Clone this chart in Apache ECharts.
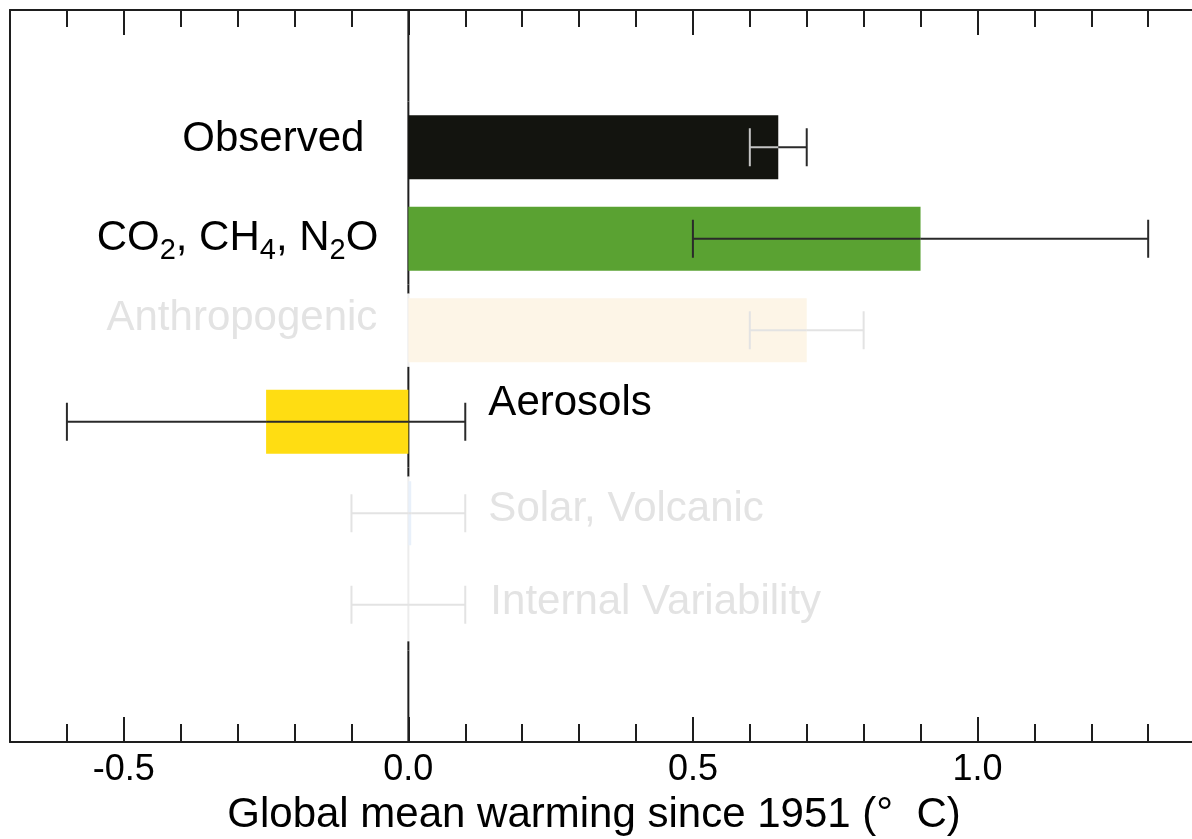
<!DOCTYPE html>
<html>
<head>
<meta charset="utf-8">
<script src="https://cdn.jsdelivr.net/npm/echarts@6/dist/echarts.min.js"></script>
<style>
  html, body { margin: 0; padding: 0; background: #ffffff; }
  #chart { width: 1192px; height: 839px; }
</style>
</head>
<body>
<div id="chart"></div>
<script>
// Rows of the chart, top to bottom (first and last rows are empty spacers)
const rows = ['', 'Observed', 'CO2, CH4, N2O', 'Anthropogenic', 'Aerosols', 'Solar, Volcanic', 'Internal Variability', ' '];
// Best estimate of warming contribution (°C)
const warming = [null, 0.65, 0.90, 0.70, -0.25, 0.005, null, null];
// Likely range (°C)
const rangeLow = [null, 0.60, 0.50, 0.60, -0.60, -0.10, -0.10, null];
const rangeHigh = [null, 0.70, 1.30, 0.80, 0.10, 0.10, 0.10, null];
// Axis ticks
const majorTicks = [-0.5, 0.0, 0.5, 1.0];
const minorTicks = [-0.6, -0.5, -0.4, -0.3, -0.2, -0.1, 0.0, 0.1, 0.2, 0.3, 0.4, 0.5, 0.6, 0.7, 0.8, 0.9, 1.0, 1.1, 1.2, 1.3];
const axisTitle = 'Global mean warming since 1951 (°  C)';

const FONT = '"Liberation Sans", Arial, Helvetica, sans-serif';
const INK = '#1e1e1e';
const FADED = '#e3e3e3';
const X_MIN = -0.7, X_MAX = 1.377;

// Appearance of each row
const ROW_STYLE = {
  'Observed':             { bar: '#13140f', whisker: '#2a2a2a', whiskerInside: '#c4c4c4', text: 'Observed', align: 'right', dx: -44, dy: -8, color: '#000000' },
  'CO2, CH4, N2O':        { bar: '#5aa232', whisker: '#2a2a2a', text: 'CO{s|2}, CH{s|4}, N{s|2}O', align: 'right', dx: -30, dy: 0, color: '#000000' },
  'Anthropogenic':        { bar: '#fdf5e7', whisker: FADED, faded: true, text: 'Anthropogenic', align: 'right', dx: -31, dy: -12, color: FADED },
  'Aerosols':             { bar: '#ffdd12', whisker: '#2a2a2a', text: 'Aerosols', align: 'left', dx: 80, dy: -18, color: '#000000' },
  'Solar, Volcanic':      { bar: '#e8f0fa', whisker: FADED, faded: true, text: 'Solar, Volcanic', align: 'left', dx: 80, dy: -4, color: FADED },
  'Internal Variability': { bar: '#ffffff', whisker: FADED, faded: true, text: 'Internal Variability', align: 'left', dx: 82, dy: -2, color: FADED }
};

const chart = echarts.init(document.getElementById('chart'), null, { renderer: 'canvas' });

function xAxisDef(position, ticks, len, withLine) {
  return {
    type: 'value', position: position, min: X_MIN, max: X_MAX,
    axisLine: { show: !!withLine, onZero: false, lineStyle: { color: INK, width: 2 } },
    axisTick: { show: true, inside: true, length: len, customValues: ticks, lineStyle: { color: INK, width: 2 } },
    axisLabel: withLine && position === 'bottom'
      ? { show: true, customValues: majorTicks, formatter: v => Number(v).toFixed(1), fontSize: 36, fontFamily: FONT, color: '#000000', margin: 10 }
      : { show: false },
    splitLine: { show: false }
  };
}

const idx = rows.map((_, i) => i);

const option = {
  backgroundColor: '#ffffff',
  animation: false,
  grid: { left: 10, right: 0, top: 10, bottom: 97, containLabel: false },
  xAxis: [
    xAxisDef('bottom', minorTicks, 18, true),
    xAxisDef('bottom', majorTicks, 25, false),
    xAxisDef('top', minorTicks, 17, true),
    xAxisDef('top', majorTicks, 25, false)
  ],
  yAxis: {
    type: 'category', data: rows, inverse: true,
    axisLine: { show: true, onZero: false, lineStyle: { color: INK, width: 2 } },
    axisTick: { show: false }, axisLabel: { show: false }, splitLine: { show: false }
  },
  graphic: [{
    type: 'text', x: 594, y: 815,
    style: { text: axisTitle, font: '42px ' + FONT, fill: '#000000', align: 'center', verticalAlign: 'middle' }
  }],
  series: [
    // Zero line, faded across the de-emphasised rows
    {
      type: 'custom', silent: true, z: 1,
      data: idx.map(i => [0, i]),
      encode: { x: 0, y: 1 },
      renderItem: function (params, api) {
        const i = api.value(1);
        const p = api.coord([0, i]);
        const bw = api.size([0, 1])[1];
        const st = ROW_STYLE[rows[i]] || {};
        const prevFaded = !!(ROW_STYLE[rows[i - 1]] || {}).faded;
        const nextFaded = !!(ROW_STYLE[rows[i + 1]] || {}).faded;
        const top = p[1] - bw / 2, bot = p[1] + bw / 2;
        const seg = (y1, y2, c) => ({ type: 'line', shape: { x1: p[0], y1: y1, x2: p[0], y2: y2 }, style: { stroke: c, lineWidth: 2 } });
        const children = [];
        if (!st.faded) {
          children.push(seg(top, bot, INK));
        } else {
          const fTop = prevFaded ? top : p[1] - 0.4 * bw;
          const fBot = nextFaded ? bot : p[1] + 0.4 * bw;
          if (fTop > top) children.push(seg(top, fTop, INK));
          children.push(seg(fTop, fBot, '#ececec'));
          if (fBot < bot) children.push(seg(fBot, bot, INK));
        }
        return { type: 'group', children: children };
      }
    },
    // Bars
    {
      type: 'bar', silent: true, z: 2, barWidth: '70%',
      data: warming.map((v, i) => ({ value: v, itemStyle: { color: (ROW_STYLE[rows[i]] || {}).bar || '#000' } }))
    },
    // Likely ranges
    {
      type: 'custom', silent: true, z: 3,
      data: idx.filter(i => rangeLow[i] !== null).map(i => [rangeLow[i], rangeHigh[i], i, warming[i] === null ? 0 : warming[i]]),
      encode: { x: [0, 1], y: 2 },
      renderItem: function (params, api) {
        const lo = api.value(0), hi = api.value(1), i = api.value(2), v = api.value(3);
        const st = ROW_STYLE[rows[i]] || {};
        const pLo = api.coord([lo, i]), pHi = api.coord([hi, i]);
        const pV = api.coord([v, i]), p0 = api.coord([0, i]);
        const y = pLo[1];
        const half = 19;
        const inner = st.whiskerInside || st.whisker;
        const outer = st.whisker;
        const barMin = Math.min(pV[0], p0[0]), barMax = Math.max(pV[0], p0[0]);
        const colorAt = x => (x >= barMin && x <= barMax) ? inner : outer;
        const line = (x1, x2, c) => ({ type: 'line', shape: { x1: x1, y1: y, x2: x2, y2: y }, style: { stroke: c, lineWidth: 2 } });
        const cap = (x) => ({ type: 'line', shape: { x1: x, y1: y - half, x2: x, y2: y + half }, style: { stroke: colorAt(x), lineWidth: 2 } });
        const children = [];
        // split the range line where it enters / leaves the bar
        const cuts = [pLo[0], pHi[0]];
        [barMin, barMax].forEach(c => { if (c > pLo[0] && c < pHi[0]) cuts.push(c); });
        cuts.sort((a, b) => a - b);
        for (let k = 0; k < cuts.length - 1; k++) {
          const mid = (cuts[k] + cuts[k + 1]) / 2;
          children.push(line(cuts[k], cuts[k + 1], colorAt(mid)));
        }
        children.push(cap(pLo[0]), cap(pHi[0]));
        return { type: 'group', children: children };
      }
    },
    // Row labels
    {
      type: 'custom', silent: true, z: 4,
      data: idx.filter(i => ROW_STYLE[rows[i]]).map(i => [0, i]),
      encode: { x: 0, y: 1 },
      renderItem: function (params, api) {
        const i = api.value(1);
        const st = ROW_STYLE[rows[i]];
        const p = api.coord([0, i]);
        return {
          type: 'text',
          x: p[0] + st.dx, y: p[1] + st.dy,
          style: {
            text: st.text,
            fill: st.color,
            font: '42px ' + FONT,
            align: st.align, verticalAlign: 'middle',
            rich: { s: { fontSize: 29, fontFamily: FONT, fill: st.color, padding: [25, 0, 0, 0] } }
          }
        };
      }
    }
  ]
};

chart.setOption(option);
</script>
</body>
</html>
